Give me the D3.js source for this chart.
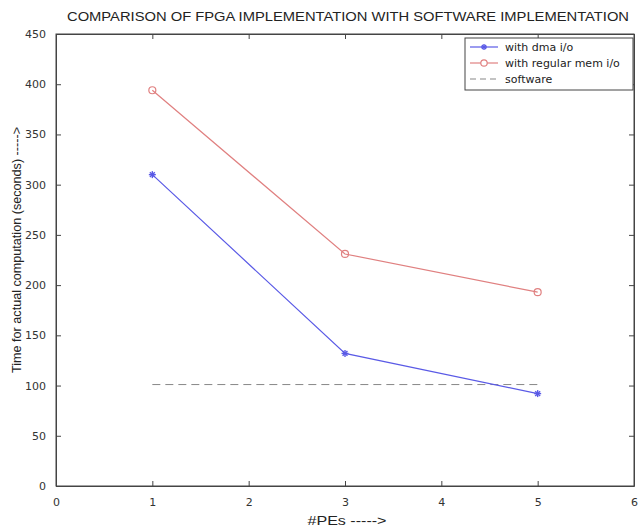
<!DOCTYPE html>
<html><head><meta charset="utf-8">
<script src="https://cdn.jsdelivr.net/npm/d3@7"></script>
<style>body{margin:0;background:#fff}svg{display:block}</style>
</head><body>
<script>
const xTicks = [0,1,2,3,4,5,6];
const yTicks = [0,50,100,150,200,250,300,350,400,450];
const peCounts = [1,3,5];
const dmaValues = [310,132,92];
const memValues = [394,231,193];
const softwareValue = 101;
const softwareRange = [1,5];
const seriesNames = ["with dma i/o","with regular mem i/o","software"];

(function(){
const W=640,H=531;
const FONT="DejaVu Sans, Liberation Sans, Arial, sans-serif";
const FONT2="Liberation Sans, Arial, sans-serif";
const svg=d3.select("body").append("svg").attr("width",W).attr("height",H)
  .style("font-family",FONT);
const x=d3.scaleLinear().domain([0,6]).range([56,634]);
const y=d3.scaleLinear().domain([0,450]).range([486,34]);
const axisCol="#444";

svg.append("rect").attr("x",x(0)).attr("y",y(450)).attr("width",x(6)-x(0)).attr("height",y(0)-y(450))
  .attr("fill","none").attr("stroke",axisCol).attr("stroke-width",1);

const fmt=d3.format("d");
const gB=svg.append("g").attr("transform",`translate(0,${y(0)})`)
  .call(d3.axisBottom(x).tickValues(xTicks).tickFormat(fmt).tickSizeInner(-5).tickSizeOuter(0).tickPadding(12));
const gL=svg.append("g").attr("transform",`translate(${x(0)},0)`)
  .call(d3.axisLeft(y).tickValues(yTicks).tickFormat(fmt).tickSizeInner(-5).tickSizeOuter(0).tickPadding(10));
const gT=svg.append("g").attr("transform",`translate(0,${y(450)})`)
  .call(d3.axisTop(x).tickValues(xTicks).tickSizeInner(-5).tickSizeOuter(0).tickFormat(""));
const gR=svg.append("g").attr("transform",`translate(${x(6)},0)`)
  .call(d3.axisRight(y).tickValues(yTicks).tickSizeInner(-5).tickSizeOuter(0).tickFormat(""));
[gB,gL,gT,gR].forEach(g=>{
  g.select(".domain").attr("stroke",axisCol);
  g.selectAll(".tick line").attr("stroke",axisCol);
  g.selectAll("text").attr("fill","#333").style("font-size","11px").style("font-family",FONT);
});

const blue="#5a5ae6", red="#e08080", gray="#888";
const line=d3.line().x(d=>x(d[0])).y(d=>y(d[1]));
const dma=peCounts.map((p,i)=>[p,dmaValues[i]]);
const mem=peCounts.map((p,i)=>[p,memValues[i]]);

svg.append("path").datum(softwareRange.map(p=>[p,softwareValue])).attr("d",line)
  .attr("fill","none").attr("stroke",gray).attr("stroke-width",1).attr("stroke-dasharray","8,5");
svg.append("path").datum(mem).attr("d",line).attr("fill","none").attr("stroke",red).attr("stroke-width",1.2);
svg.append("path").datum(dma).attr("d",line).attr("fill","none").attr("stroke",blue).attr("stroke-width",1.2);

svg.selectAll(".mk-o").data(mem).enter().append("circle")
  .attr("cx",d=>x(d[0])).attr("cy",d=>y(d[1])).attr("r",3.5)
  .attr("fill","none").attr("stroke",red).attr("stroke-width",1.2);

function star(g,cx,cy,col,s){
  const a=[[-s,0,s,0],[0,-s,0,s],[-s*0.7,-s*0.7,s*0.7,s*0.7],[-s*0.7,s*0.7,s*0.7,-s*0.7]];
  a.forEach(l=>g.append("line").attr("x1",cx+l[0]).attr("y1",cy+l[1]).attr("x2",cx+l[2]).attr("y2",cy+l[3])
    .attr("stroke",col).attr("stroke-width",1.4));
}
dma.forEach(d=>star(svg,x(d[0]),y(d[1]),blue,3.5));

svg.append("text").attr("x",348).attr("y",21).attr("text-anchor","middle")
  .attr("textLength",562).attr("lengthAdjust","spacingAndGlyphs")
  .style("font-size","12px").style("font-family",FONT2).attr("fill","#222")
  .text("COMPARISON OF FPGA IMPLEMENTATION WITH SOFTWARE IMPLEMENTATION");
svg.append("text").attr("x",347).attr("y",525).attr("text-anchor","middle")
  .attr("textLength",79).attr("lengthAdjust","spacingAndGlyphs")
  .style("font-size","12px").style("font-family",FONT2).attr("fill","#222").text("#PEs ----->");
svg.append("text").attr("transform","translate(21,250) rotate(-90)").attr("text-anchor","middle")
  .attr("textLength",246).attr("lengthAdjust","spacingAndGlyphs")
  .style("font-size","12px").style("font-family",FONT2).attr("fill","#222").text("Time for actual computation (seconds) ----->");

const lg=svg.append("g");
lg.append("rect").attr("x",465).attr("y",38).attr("width",168).attr("height",52)
  .attr("fill","#fff").attr("stroke",axisCol).attr("stroke-width",1);
const rows=[47,63,79];
const lcols=[blue,red,gray];
seriesNames.forEach((n,i)=>{
  const ly=rows[i];
  lg.append("line").attr("x1",470).attr("x2",498).attr("y1",ly).attr("y2",ly)
    .attr("stroke",lcols[i]).attr("stroke-width",1.2).attr("stroke-dasharray",i===2?"6,4":null);
  if(i===0) star(lg,484,ly,blue,3);
  if(i===1) lg.append("circle").attr("cx",484).attr("cy",ly).attr("r",3.2).attr("fill","#fff").attr("stroke",red).attr("stroke-width",1.2);
  lg.append("text").attr("x",505).attr("y",ly+4).style("font-size","11px").attr("fill","#222").text(n);
});
})();
</script>
</body></html>
